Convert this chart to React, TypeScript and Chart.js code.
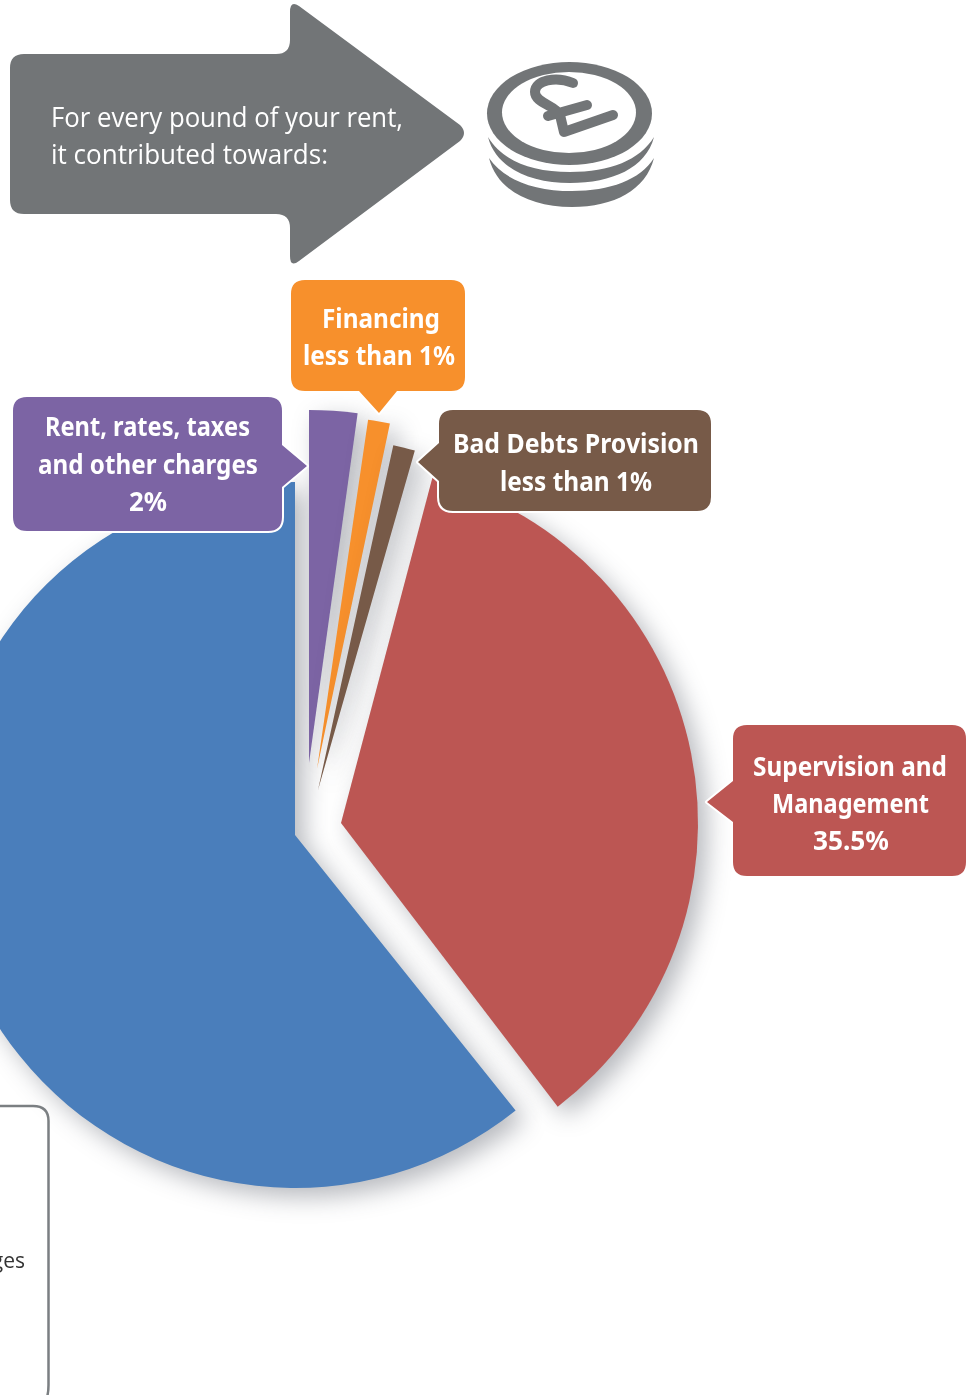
import React, { useEffect, useRef } from "react";
import { Chart, registerables } from "chart.js";

Chart.register(...registerables);

// Clockwise from the blue slice, whose far edge is at 12 o'clock
const categories = ["Other costs", "Rent, rates, taxes and other charges", "Financing", "Bad Debts Provision", "Supervision and Management"];
const values = [60.3, 2.2, 1, 1, 35.5];
const colours = ["#4A7EBB", "#7C64A4", "#F7902C", "#775A48", "#BC5653"];

// Exploded-slice styling (px / degrees)
const explodeX = [0, 14, 22, 23, 46];
const explodeY = [0, -72, -66, -45, -12];
const turnDeg = [0, 0, 0.4, 0.8, -0.3];
const flareDeg = [1.6, 0, 0, 0, 0];
const growPx = [0, 0, 0, 0, 4];

const RAD = Math.PI / 180;

const explodePlugin = {
  id: "explode",
  afterDatasetsUpdate(chart: any) {
    chart.getDatasetMeta(0).data.forEach((arc: any, i: number) => {
      arc.x += explodeX[i];
      arc.y += explodeY[i];
      arc.outerRadius += growPx[i];
      arc.startAngle += (turnDeg[i] - flareDeg[i]) * RAD;
      arc.endAngle += turnDeg[i] * RAD;
      arc.circumference = arc.endAngle - arc.startAngle;
    });
  },
  beforeDatasetsDraw(chart: any) {
    const c = chart.ctx;
    c.save();
    c.shadowColor = "rgba(55,62,75,0.36)";
    c.shadowBlur = 24;
    c.shadowOffsetX = 9;
    c.shadowOffsetY = 9;
  },
  afterDatasetsDraw(chart: any) {
    chart.ctx.restore();
  },
};

function bubble(l: number, t: number, r: number, b: number, pointer: string, rad = 14) {
  const side = pointer.split(":");
  const [px, py, a, c] = side.slice(1).map(Number);
  const kind = side[0];
  let d = `M ${l + rad} ${t} `;
  d += `L ${r - rad} ${t} Q ${r} ${t} ${r} ${t + rad} `;
  if (kind === "right") d += `L ${r} ${a} L ${px} ${py} L ${r} ${c} `;
  d += `L ${r} ${b - rad} Q ${r} ${b} ${r - rad} ${b} `;
  if (kind === "bottom") d += `L ${c} ${b} L ${px} ${py} L ${a} ${b} `;
  d += `L ${l + rad} ${b} Q ${l} ${b} ${l} ${b - rad} `;
  if (kind === "left") d += `L ${l} ${c} L ${px} ${py} L ${l} ${a} `;
  d += `L ${l} ${t + rad} Q ${l} ${t} ${l + rad} ${t} Z`;
  return d;
}

const Label = ({ x, w, y, children }: { x: number; w: number; y: number; children: string }) => (
  <text x={x} y={y} textLength={w} lengthAdjust="spacingAndGlyphs" fill="#fff"
    style={{ fontFamily: "'Noto Sans'", fontWeight: 700, fontSize: 27 }}>{children}</text>
);

export default function App() {
  const ref = useRef<HTMLCanvasElement>(null);
  useEffect(() => {
    const chart = new Chart(ref.current!, {
      type: "pie",
      data: {
        labels: categories,
        datasets: [{ data: values, backgroundColor: colours, borderWidth: 0, radius: 353 } as any],
      },
      options: {
        responsive: false,
        animation: false,
        rotation: 142.92,
        layout: { padding: 0 },
        plugins: { legend: { display: false }, tooltip: { enabled: false } },
      },
      plugins: [explodePlugin],
    } as any);
    return () => chart.destroy();
  }, []);

  const grey = "#727577";
  return (
    <div style={{ position: "absolute", left: 0, top: 0, width: 966, height: 1395, overflow: "hidden", background: "#fff" }}>
      <canvas ref={ref} width={990} height={1670} style={{ position: "absolute", left: -200, top: 0, width: 990, height: 1670 }} />
      <svg width={966} height={1395} style={{ position: "absolute", left: 0, top: 0 }}>
        {/* Arrow */}
        <path fill={grey} d="M 24 54 L 276 54 Q 290 54 290 40 L 290 12 Q 290 0 299 6 L 460 125 Q 468 133 460 141 L 299 261 Q 290 268 290 256 L 290 228 Q 290 214 276 214 L 24 214 Q 10 214 10 200 L 10 68 Q 10 54 24 54 Z" />
        <text x={51} y={127} textLength={352} lengthAdjust="spacingAndGlyphs" fill="#fff" style={{ fontFamily: "'Open Sans'", fontWeight: 400, fontSize: 28 }}>For every pound of your rent,</text>
        <text x={51} y={164} textLength={277} lengthAdjust="spacingAndGlyphs" fill="#fff" style={{ fontFamily: "'Open Sans'", fontWeight: 400, fontSize: 28 }}>it contributed towards:</text>

        {/* Coin stack */}
        <path fill={grey} d="M 489 158 C 497 190 530 207 572 207 C 614 207 646 190 654 158 C 640 180 610 191 572 191 C 534 191 504 180 489 158 Z" />
        <path fill={grey} d="M 488 137 C 496 168 530 183 570 183 C 612 183 646 168 654 137 C 640 160 610 172 570 172 C 530 172 502 160 488 137 Z" />
        <ellipse cx={569.5} cy={113.5} rx={82.5} ry={51.5} fill={grey} />
        <ellipse cx={569} cy={112.5} rx={67} ry={40.5} fill="#fff" />
        <path fill="none" stroke={grey} strokeWidth={10} strokeLinecap="round" strokeLinejoin="round"
          d="M 573 83 C 556 76 535 80 535 92 C 535 103 555 105 560 115 L 564 132 L 613 115 M 548 116 L 587 105" />

        {/* Lower-left box */}
        <path fill="none" stroke="#7B7F82" strokeWidth={2.5} d="M -10 1106 L 33 1106 Q 48.5 1106 48.5 1121 L 48.5 1385 Q 48.5 1398 44 1402" />
        <text x={25} y={1268} textAnchor="end" fill="#333" style={{ fontFamily: "'Open Sans'", fontSize: 21 }}>charges</text>

        {/* Callouts */}
        <g stroke="#fff" strokeWidth={4} strokeLinejoin="round" style={{ paintOrder: "stroke" }}>
          <path fill="#7C64A4" d={bubble(13, 397, 282, 531, "right:307:466:445:487")} />
          <path fill="#F7902C" d={bubble(291, 280, 465, 391, "bottom:379:413:359:397")} />
          <path fill="#775A48" d={bubble(439, 410, 711, 511, "left:418:462:443:481")} />
          <path fill="#BC5653" d={bubble(733, 725, 966, 876, "left:707:802:781:822")} />
        </g>

        <Label x={45} w={205} y={436}>Rent, rates, taxes</Label>
        <Label x={38} w={220} y={474}>and other charges</Label>
        <Label x={129} w={38} y={511}>2%</Label>

        <Label x={322} w={118} y={328}>Financing</Label>
        <Label x={303} w={152} y={365}>less than 1%</Label>

        <Label x={453} w={246} y={453}>Bad Debts Provision</Label>
        <Label x={500} w={152} y={491}>less than 1%</Label>

        <Label x={753} w={194} y={776}>Supervision and</Label>
        <Label x={772} w={157} y={813}>Management</Label>
        <Label x={813} w={76} y={850}>35.5%</Label>
      </svg>
    </div>
  );
}
